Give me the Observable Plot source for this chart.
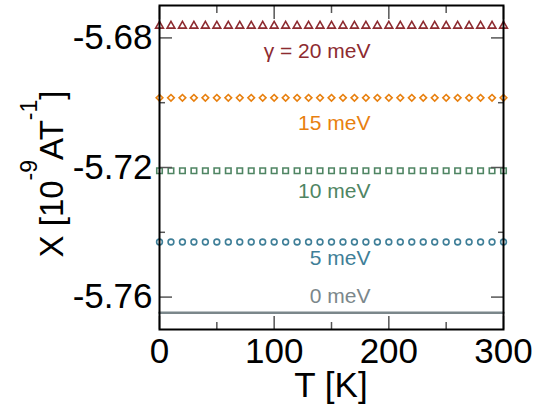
<!DOCTYPE html>
<html><head><meta charset="utf-8">
<script src="https://cdn.jsdelivr.net/npm/d3@7"></script>
<script src="https://cdn.jsdelivr.net/npm/@observablehq/plot@0.6"></script>
<style>body{margin:0;background:#fff;} svg{display:block;}</style>
</head><body><div id="chart"></div>
<script>
// ---- data ----
const temperature = [0,10,20,30,40,50,60,70,80,90,100,110,120,130,140,150,160,170,180,190,200,210,220,230,240,250,260,270,280,290,300];
const chi20 = [-5.6763,-5.6763,-5.6763,-5.6763,-5.6763,-5.6763,-5.6763,-5.6763,-5.6763,-5.6763,-5.6763,-5.6763,-5.6763,-5.6763,-5.6763,-5.6763,-5.6763,-5.6763,-5.6763,-5.6763,-5.6763,-5.6763,-5.6763,-5.6763,-5.6763,-5.6763,-5.6763,-5.6763,-5.6763,-5.6763,-5.6763];
const chi15 = [-5.6985,-5.6985,-5.6985,-5.6985,-5.6985,-5.6985,-5.6985,-5.6985,-5.6985,-5.6985,-5.6985,-5.6985,-5.6985,-5.6985,-5.6985,-5.6985,-5.6985,-5.6985,-5.6985,-5.6985,-5.6985,-5.6985,-5.6985,-5.6985,-5.6985,-5.6985,-5.6985,-5.6985,-5.6985,-5.6985,-5.6985];
const chi10 = [-5.7210,-5.7210,-5.7210,-5.7210,-5.7210,-5.7210,-5.7210,-5.7210,-5.7210,-5.7210,-5.7210,-5.7210,-5.7210,-5.7210,-5.7210,-5.7210,-5.7210,-5.7210,-5.7210,-5.7210,-5.7210,-5.7210,-5.7210,-5.7210,-5.7210,-5.7210,-5.7210,-5.7210,-5.7210,-5.7210,-5.7210];
const chi5 = [-5.7430,-5.7430,-5.7430,-5.7430,-5.7430,-5.7430,-5.7430,-5.7430,-5.7430,-5.7430,-5.7430,-5.7430,-5.7430,-5.7430,-5.7430,-5.7430,-5.7430,-5.7430,-5.7430,-5.7430,-5.7430,-5.7430,-5.7430,-5.7430,-5.7430,-5.7430,-5.7430,-5.7430,-5.7430,-5.7430,-5.7430];
const chi0 = [-5.7648,-5.7648,-5.7648,-5.7648,-5.7648,-5.7648,-5.7648,-5.7648,-5.7648,-5.7648,-5.7648,-5.7648,-5.7648,-5.7648,-5.7648,-5.7648,-5.7648,-5.7648,-5.7648,-5.7648,-5.7648,-5.7648,-5.7648,-5.7648,-5.7648,-5.7648,-5.7648,-5.7648,-5.7648,-5.7648,-5.7648];

const labelText = ["γ = 20 meV", "15 meV", "10 meV", "5 meV", "0 meV"];
const labelT = [184, 184, 184, 184, 184];
const labelChi = [-5.6842, -5.7064, -5.7273, -5.7479, -5.7598];
const seriesColors = ["#8d2b30", "#e8800f", "#4f8563", "#3f7f98", "#7b878b"];

const xMajorTicks = [0, 100, 200, 300];
const xMinorTicks = [50, 150, 250];
const yMajorTicks = [-5.76, -5.72, -5.68];
const yMinorTicks = [-5.74, -5.70];

const xTitle = "T [K]";

// ---- build ----
const rows = vals => temperature.map((t, i) => ({T: t, chi: vals[i]}));
const labels = labelText.map((s, i) => ({text: s, T: labelT[i], chi: labelChi[i], color: seriesColors[i]}));
const font = "'Liberation Sans', Arial, Helvetica, sans-serif";
const tickColor = "#555";

const plot = Plot.plot({
  width: 556, height: 407,
  marginLeft: 159, marginRight: 53, marginTop: 5, marginBottom: 78,
  style: {fontFamily: font, fontSize: "35px", background: "white", color: "black", overflow: "visible"},
  x: {domain: [0, 300], label: null},
  y: {domain: [-5.77, -5.67], label: null},
  color: {type: "identity"},
  marks: [
    Plot.line(rows(chi0), {x: "T", y: "chi", stroke: seriesColors[4], strokeWidth: 2.5}),
    Plot.dot(rows(chi5), {x: "T", y: "chi", symbol: "circle", r: 2.9, stroke: seriesColors[3], strokeWidth: 1.6, fill: "none"}),
    Plot.dot(rows(chi10), {x: "T", y: "chi", symbol: "square", r: 3.1, stroke: seriesColors[2], strokeWidth: 1.6, fill: "none"}),
    Plot.dot(rows(chi15), {x: "T", y: "chi", symbol: "diamond2", r: 3.0, stroke: seriesColors[1], strokeWidth: 1.6, fill: "none"}),
    Plot.dot(rows(chi20), {x: "T", y: "chi", symbol: "triangle", r: 2.9, stroke: seriesColors[0], strokeWidth: 1.6, fill: "none"}),
    Plot.text(labels, {x: "T", y: "chi", text: "text", fill: "color", textAnchor: "end", fontSize: 21}),
    // x axes
    Plot.axisX({anchor: "bottom", ticks: xMajorTicks, tickSize: -13, tickPadding: 22, stroke: tickColor, strokeWidth: 1.5, fill: "black", fontSize: 35, label: null}),
    Plot.axisX({anchor: "bottom", ticks: xMinorTicks, tickSize: -7, stroke: tickColor, strokeWidth: 1.5, fill: "none", label: null}),
    Plot.axisX({anchor: "top", ticks: xMajorTicks, tickSize: -13, stroke: tickColor, strokeWidth: 1.5, fill: "none", label: null}),
    Plot.axisX({anchor: "top", ticks: xMinorTicks, tickSize: -7, stroke: tickColor, strokeWidth: 1.5, fill: "none", label: null}),
    // y axes
    Plot.axisY({anchor: "left", ticks: yMajorTicks, tickSize: -13, tickPadding: 20, stroke: tickColor, strokeWidth: 1.5, fill: "black", fontSize: 35, tickFormat: d => d.toFixed(2), label: null}),
    Plot.axisY({anchor: "left", ticks: yMinorTicks, tickSize: -6, stroke: tickColor, strokeWidth: 1.5, fill: "none", label: null}),
    Plot.axisY({anchor: "right", ticks: yMajorTicks, tickSize: -13, stroke: tickColor, strokeWidth: 1.5, fill: "none", label: null}),
    Plot.axisY({anchor: "right", ticks: yMinorTicks, tickSize: -6, stroke: tickColor, strokeWidth: 1.5, fill: "none", label: null}),
    Plot.frame({stroke: "black", strokeWidth: 2})
  ]
});

const svg = d3.select(plot);
// x-axis title
svg.append("text")
  .attr("x", 331).attr("y", 397)
  .attr("text-anchor", "middle")
  .style("font-family", font).style("font-size", "35px").attr("fill", "black")
  .text(xTitle);
// y-axis title with superscripts
const yt = svg.append("text")
  .attr("transform", "translate(63,174) rotate(-90)")
  .attr("text-anchor", "middle")
  .style("font-family", font).style("font-size", "33px").attr("fill", "black");
yt.append("tspan").text("X [10");
yt.append("tspan").attr("dy", -26).style("font-size", "23px").text("-9");
yt.append("tspan").attr("dy", 26).text("AT");
yt.append("tspan").attr("dy", -26).style("font-size", "23px").text("-1");
yt.append("tspan").attr("dy", 26).text("]");

document.getElementById("chart").append(plot);
</script>
</body></html>
